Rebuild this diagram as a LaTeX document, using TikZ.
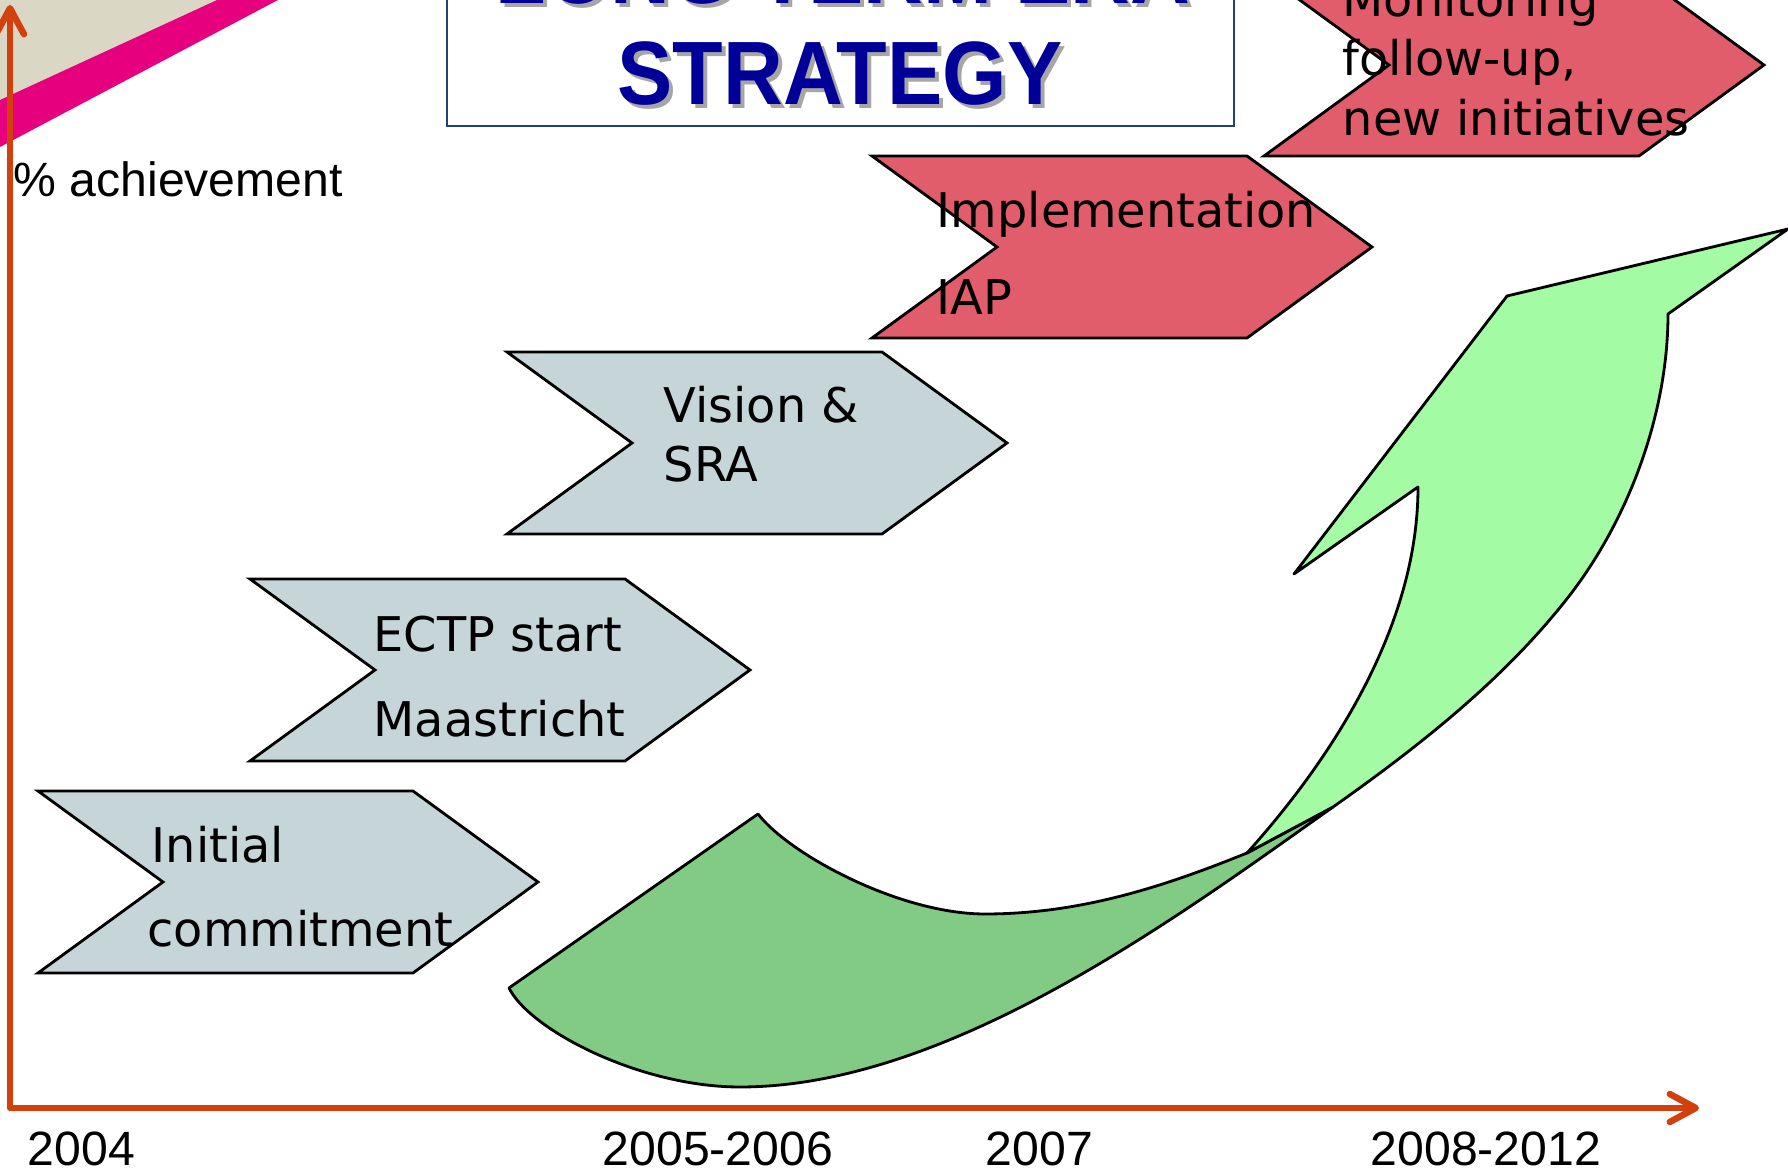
\documentclass[tikz,border=0pt]{standalone}
\usepackage{fontspec}
\setmainfont{Liberation Sans}
\newfontfamily\chevfont{DejaVu Sans}
\newfontfamily\titlefont[FakeStretch=0.92]{Liberation Sans}
\usepackage{xcolor}
\usepackage{tikz}
\usetikzlibrary{arrows.meta}

\definecolor{axisred}{HTML}{D2400E}
\definecolor{chevgrey}{HTML}{C6D5D8}
\definecolor{chevred}{HTML}{E15D6B}
\definecolor{arrowdark}{HTML}{82CB85}
\definecolor{arrowlight}{HTML}{A3FCA3}
\definecolor{titleblue}{HTML}{000099}
\definecolor{boxblue}{HTML}{24407A}
\definecolor{bandpink}{HTML}{E6007E}
\definecolor{bandbeige}{HTML}{DAD7C5}

\tikzset{
  greystep/.style={draw=black, line width=0.8pt, fill=chevgrey},
  redstep/.style={draw=black, line width=0.8pt, fill=chevred},
  steptext/.style={font=\chevfont\fontsize{13.6}{15}\selectfont, anchor=base west, inner sep=0pt},
  labeltext/.style={font=\fontsize{13.7}{16}\selectfont, anchor=base west, inner sep=0pt},
  titletext/.style={font=\titlefont\bfseries\fontsize{25.6}{30}\selectfont, anchor=base, inner sep=0pt},
  axisline/.style={draw=axisred, line width=0.65mm, line cap=round, line join=round},
  axistip/.tip={Straight Barb[length=2.6mm, width=2.8mm, round]}
}

\begin{document}
\begin{tikzpicture}[x=0.1mm, y=-0.1mm]
    \useasboundingbox (0,0) rectangle (1788,1169);
    \clip (0,0) rectangle (1788,1169);

    \fill[bandbeige] (0,0) -- (217,0) -- (0,100) -- cycle;
    \fill[bandpink] (217,0) -- (278,0) -- (0,147) -- (0,100) -- cycle;

    \draw[boxblue, line width=0.8pt, fill=white] (447,-200) rectangle (1234,126);
    \node (titleAs) [titletext, text=black!35] at (847,8) {LONG TERM ERA};
    \node (titleA) [titletext, text=titleblue] at (843,4) {LONG TERM ERA};
    \node (titleBs) [titletext, text=black!35] at (844,109) {STRATEGY};
    \node (titleB) [titletext, text=titleblue] at (840,105) {STRATEGY};

    \draw[greystep] (38,791) -- (413,791) -- (538,882) -- (413,973) -- (38,973) -- (163,882) -- cycle;
    \node (initial) [steptext] at (151,863) {Initial};
    \node (commitment) [steptext] at (147,947) {commitment};

    \draw[greystep] (250,579) -- (625,579) -- (750,670) -- (625,761) -- (250,761) -- (375,670) -- cycle;
    \node (ectp) [steptext] at (373,652) {ECTP start};
    \node (maastricht) [steptext] at (373,737) {Maastricht};

    \draw[greystep] (507,352) -- (882,352) -- (1007,443) -- (882,534) -- (507,534) -- (632,443) -- cycle;
    \node (vision) [steptext] at (663,423) {Vision \&};
    \node (sra) [steptext] at (663,482) {SRA};

    \draw[redstep] (872,156) -- (1247,156) -- (1372,247) -- (1247,338) -- (872,338) -- (997,247) -- cycle;
    \node (implement) [steptext] at (936,228) {Implementation};
    \node (iap) [steptext] at (936,315) {IAP};

    \draw[redstep] (1264,-26) -- (1639,-26) -- (1764,65) -- (1639,156) -- (1264,156) -- (1389,65) -- cycle;
    \node (monitor) [steptext] at (1342,17) {Monitoring};
    \node (followup) [steptext] at (1342,76) {follow-up,};
    \node (newinit) [steptext] at (1342,136) {new initiatives};

    \draw[fill=arrowdark, line width=0.8pt, line join=round]
        (509,988) .. controls (530,1030) and (640,1087) .. (740,1087)
        .. controls (950,1087) and (1180,915) .. (1333,807)
        -- (1247,853)
        .. controls (1163,887) and (1080,914) .. (985,914)
        .. controls (900,914) and (790,855) .. (758,814) -- cycle;
    \draw[fill=arrowlight, line width=0.8pt, line join=round]
        (1247,853) .. controls (1337,753) and (1418,622) .. (1418,487)
        -- (1294,574) -- (1507,296) -- (1788,229) -- (1668,314)
        .. controls (1668,414) and (1628,522) .. (1566,600)
        .. controls (1502,681) and (1418,747) .. (1333,807) -- cycle;

    \coordinate (origin) at (10,1108);
    \coordinate (ytop) at (10,5);
    \coordinate (xend) at (1699,1108);
    \draw[axisline, axistip-axistip] (ytop) -- (origin) -- (xend);

    \node (achieve) [labeltext] at (13,197) {\% achievement};
    \node (y2004) [labeltext] at (27,1165) {2004};
    \node (y2005) [labeltext] at (602,1165) {2005-2006};
    \node (y2007) [labeltext] at (985,1165) {2007};
    \node (y2008) [labeltext] at (1370,1165) {2008-2012};
\end{tikzpicture}
\end{document}
